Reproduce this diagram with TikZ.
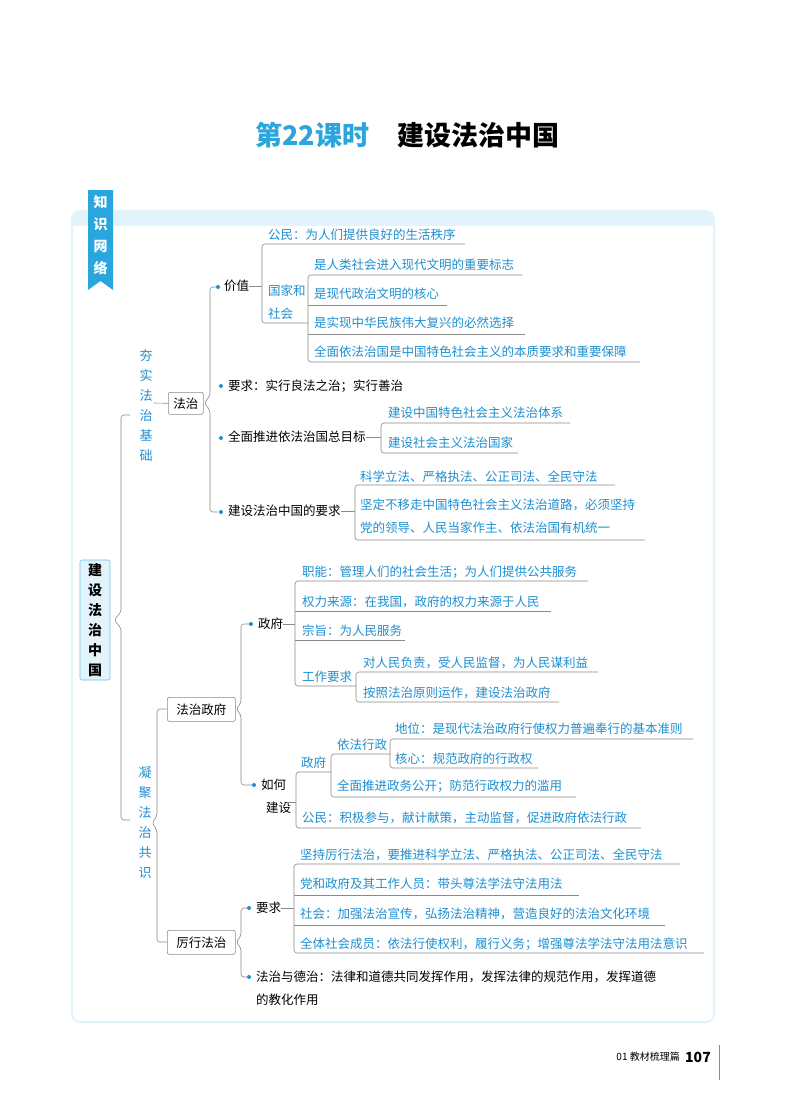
\documentclass[tikz,border=0pt]{standalone}
\usepackage{fontspec}
\setmainfont{Noto Sans CJK SC}
\definecolor{ib}{HTML}{1E8FD0}
\definecolor{tb}{HTML}{2AA6DE}
\definecolor{ln}{HTML}{8A8A8A}
\definecolor{pl}{HTML}{E3F3FB}
\begin{document}
\begin{tikzpicture}[x=1pt,y=-1pt,
 it/.style={anchor=west,inner sep=0,font=\fontsize{12.5}{14}\selectfont,text=ib},
 bk/.style={anchor=west,inner sep=0,font=\fontsize{12.5}{14}\selectfont,text=black},
 vt/.style={inner sep=0,align=center,font=\fontsize{13}{20}\selectfont},
 ul/.style={draw=ln,line width=0.6pt},
 br/.style={draw=ln,line width=0.6pt,rounded corners=3pt},
 bx/.style={draw=ln,line width=0.6pt,fill=white,rounded corners=2pt,inner sep=0,anchor=north west,font=\fontsize{12.5}{14}\selectfont},
 dt/.style={circle,fill=ib,inner sep=0,minimum size=4pt}]
\useasboundingbox (0,0) rectangle (794,1114);
\fill[white] (0,0) rectangle (794,1114);
% title
\node[anchor=west,inner sep=0,font=\fontsize{27}{30}\selectfont\bfseries,text=tb] (title) at (255,135) {第22课时};
\node[anchor=west,inner sep=0,font=\fontsize{27}{30}\selectfont\bfseries] (title2) at (397,135) {建设法治中国};
% panel
\draw[draw=pl,line width=2pt,fill=white,rounded corners=8pt] (72,211) rectangle (714,1022);
\fill[pl] (73,212) rectangle (713,226);
% tag
\fill[tb] (88,190) -- (113,190) -- (113,290) -- (100.5,281) -- (88,290) -- cycle;
\node[vt,text=white,font=\fontsize{14}{22}\selectfont\bfseries] (tag) at (100.5,235) {知\\识\\网\\络};
% root
\node[draw=tb!70,fill=pl,line width=0.6pt,rounded corners=2pt,minimum width=30pt,minimum height=120pt,inner sep=0,font=\fontsize{14}{20}\selectfont\bfseries,align=center] (root) at (95,620) {建\\设\\法\\治\\中\\国};
\draw[br] (130,415) -- (121,415) -- (121,612) -- (114,620) -- (121,628) -- (121,820) -- (130,820);
% section 1
\node[vt,text=ib] (s1) at (146,405) {夯\\实\\法\\治\\基\\础};
\node[bx,minimum width=35pt,minimum height=22pt] (fz) at (168,392) {法治};
\draw[ul] (154,403) -- (fz.west);
\draw[br] (218,287) -- (210,287) -- (210,396) -- (204,403) -- (210,410) -- (210,512) -- (218,512);
\node[dt] (d1) at (218,287) {}; \node[dt] (d2) at (221,386) {}; \node[dt] (d3) at (221,438) {}; \node[dt] (d4) at (221,512) {};
\node[bk] (jz) at (224,286) {价值};
\draw[ul] (jz.east) -- (262,286);
\draw[br] (465,244) -- (262,244) -- (262,323) -- (308,323);
\node[it] (a1) at (268,235) {公民：为人们提供良好的生活秩序};
\node[it,align=left,font=\fontsize{12.5}{23}\selectfont] (gj) at (268,302) {国家和\\社会};
\draw[br] (522,275) -- (308,275) -- (308,362) -- (640,362);
\draw[ul] (308,305) -- (447,305); \draw[ul] (308,334) -- (525,334);
\node[it] (b1) at (314,265) {是人类社会进入现代文明的重要标志};
\node[it] (b2) at (314,294) {是现代政治文明的核心};
\node[it] (b3) at (314,323) {是实现中华民族伟大复兴的必然选择};
\node[it] (b4) at (314,352) {全面依法治国是中国特色社会主义的本质要求和重要保障};
\node[bk] (yq1) at (228,386) {要求：实行良法之治；实行善治};
\node[bk] (mb) at (228,437) {全面推进依法治国总目标};
\draw[ul] (mb.east) -- (381,437);
\draw[br] (570,423) -- (381,423) -- (381,453) -- (518,453);
\node[it] (c1) at (388,413) {建设中国特色社会主义法治体系};
\node[it] (c2) at (388,443) {建设社会主义法治国家};
\node[bk] (js) at (228,511) {建设法治中国的要求};
\draw[ul] (js.east) -- (355,511);
\draw[br] (615,485) -- (355,485) -- (355,540) -- (645,540);
\node[it] (e1) at (360,477) {科学立法、严格执法、公正司法、全民守法};
\node[it,align=left,font=\fontsize{12.5}{23}\selectfont] (e2) at (360,516) {坚定不移走中国特色社会主义法治道路，必须坚持\\党的领导、人民当家作主、依法治国有机统一};
% section 2
\node[vt,text=ib] (s2) at (145,823) {凝\\聚\\法\\治\\共\\识};
\draw[br] (167,709) -- (157,709) -- (157,816) -- (152,823) -- (157,830) -- (157,942) -- (167,942);
\node[bx,minimum width=68pt,minimum height=24pt] (fzzf) at (167,697) {法治政府};
\node[bx,minimum width=68pt,minimum height=24pt] (lxfz) at (167,930) {厉行法治};
\draw[br] (251,624) -- (241,624) -- (241,703) -- (236,709) -- (241,715) -- (241,785) -- (254,785);
\node[dt] (f1) at (251,624) {}; \node[dt] (f2) at (254,785) {};
\node[bk] (zf) at (258,624) {政府};
\draw[ul] (zf.east) -- (295,624);
\draw[br] (588,581) -- (295,581) -- (295,686) -- (356,686);
\draw[ul] (295,611) -- (551,611); \draw[ul] (295,640) -- (405,640);
\node[it] (g1) at (302,572) {职能：管理人们的社会生活；为人们提供公共服务};
\node[it] (g2) at (302,602) {权力来源：在我国，政府的权力来源于人民};
\node[it] (g3) at (302,631) {宗旨：为人民服务};
\node[it] (g4) at (302,677) {工作要求};
\draw[br] (598,672) -- (356,672) -- (356,702) -- (559,702);
\node[it] (h1) at (363,663) {对人民负责，受人民监督，为人民谋利益};
\node[it] (h2) at (363,693) {按照法治原则运作，建设法治政府};
\node[bk,align=left,font=\fontsize{12.5}{23}\selectfont] (rh) at (261,796) {如何\\\ \,建设};
\draw[ul] (287,802) -- (296,802);
\draw[br] (331,772) -- (296,772) -- (296,828) -- (641,828);
\node[it] (k0) at (301,763) {政府};
\node[it] (k4) at (302,818) {公民：积极参与，献计献策，主动监督，促进政府依法行政};
\draw[br] (390,754) -- (331,754) -- (331,797) -- (576,797);
\node[it] (k1) at (337,745) {依法行政};
\node[it] (k3) at (337,786) {全面推进政务公开；防范行政权力的滥用};
\draw[br] (693,739) -- (390,739) -- (390,768) -- (538,768);
\node[it] (m1) at (395,729) {地位：是现代法治政府行使权力普遍奉行的基本准则};
\node[it] (m2) at (395,759) {核心：规范政府的行政权};
\draw[br] (249,908) -- (241,908) -- (241,936) -- (236,942) -- (241,948) -- (241,977) -- (249,977);
\node[dt] (p1) at (249,908) {}; \node[dt] (p2) at (249,977) {};
\node[bk] (yq2) at (256,908) {要求};
\draw[ul] (yq2.east) -- (294,908);
\draw[br] (680,864) -- (294,864) -- (294,953) -- (704,953);
\draw[ul] (294,895) -- (579,895); \draw[ul] (294,925) -- (665,925);
\node[it] (q1) at (300,855) {坚持厉行法治，要推进科学立法、严格执法、公正司法、全民守法};
\node[it] (q2) at (300,884) {党和政府及其工作人员：带头尊法学法守法用法};
\node[it] (q3) at (300,914) {社会：加强法治宣传，弘扬法治精神，营造良好的法治文化环境};
\node[it] (q4) at (300,944) {全体社会成员：依法行使权利，履行义务；增强尊法学法守法用法意识};
\node[bk,align=left,font=\fontsize{12.5}{23}\selectfont] (dz) at (256,988) {法治与德治：法律和道德共同发挥作用，发挥法律的规范作用，发挥道德\\的教化作用};
% footer
\node[anchor=east,inner sep=0,font=\fontsize{10}{12}\selectfont] (ft) at (680,1057) {01 教材梳理篇};
\node[anchor=west,inner sep=0,font=\fontsize{14}{16}\selectfont\bfseries\rmfamily] (pg) at (685,1057) {107};
\draw[ln,line width=0.6pt] (719,1045) -- (719,1080);
\end{tikzpicture}
\end{document}
